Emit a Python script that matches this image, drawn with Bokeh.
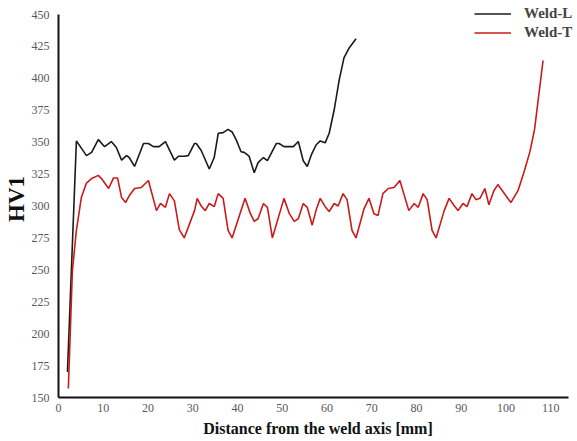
from bokeh.plotting import figure
from bokeh.models import Range1d, FixedTicker, Legend, LegendItem
from bokeh.embed import file_html
from bokeh.resources import INLINE

# Weld-L (black)
weld_l_x = [2.0, 4.0, 6.25, 7.4, 8.9, 10.3, 11.8, 12.9, 14.1, 15.2, 15.8, 17.0, 19.0, 20.1,
            21.2, 22.5, 23.9, 25.9, 26.8, 28.1, 29.0, 30.4, 30.8, 31.9, 33.7, 34.8, 35.7,
            36.8, 37.9, 38.8, 39.7, 40.8, 41.5, 42.6, 43.75, 44.6, 45.8, 46.7, 48.7, 49.3,
            50.4, 52.5, 53.6, 54.7, 55.6, 56.5, 57.6, 58.5, 59.6, 60.5, 61.6, 62.7, 63.8,
            65.0, 66.5]
weld_l_y = [170, 351, 339.5, 342, 352, 346.5, 350.5, 346, 336, 339.5, 338, 331, 349, 349,
            346.5, 346.5, 350.5, 336, 339, 339, 339.5, 349, 349, 343.5, 329, 338, 357,
            357.5, 360, 358, 352, 342.5, 342, 339, 326, 334, 338, 335.5, 349, 349,
            346.5, 346.5, 350.5, 335.5, 331, 340, 348, 351, 349.5, 357, 375, 398, 416,
            424, 431]

# Weld-T (red)
weld_t_x = [2.2, 3.1, 4.0, 5.1, 6.25, 7.4, 8.9, 9.6, 11.2, 12.3, 13.2, 14.1, 15.0, 15.8,
            17.0, 18.5, 20.1, 21.9, 22.8, 23.9, 24.8, 25.9, 27.0, 28.1, 30.4, 31.0, 31.9,
            32.8, 33.7, 34.8, 35.7, 36.8, 37.9, 38.8, 40.8, 41.7, 42.9, 43.75, 44.6, 45.8,
            46.7, 47.8, 50.4, 51.6, 52.7, 53.6, 54.7, 55.6, 56.7, 57.6, 58.5, 59.6, 60.5,
            61.6, 62.5, 63.6, 64.5, 65.6, 66.5, 68.3, 69.4, 70.5, 71.4, 72.5, 73.7, 75.0,
            76.3, 78.3, 79.5, 80.4, 81.5, 82.4, 83.5, 84.4, 86.2, 87.3, 88.4, 89.3, 90.4,
            91.3, 92.4, 93.3, 94.2, 95.3, 96.2, 97.3, 98.2, 101.1, 102.7, 104.0, 105.4,
            106.4, 108.3]
weld_t_y = [157, 249, 281, 306.6, 318, 321.5, 324, 321.5, 313.7, 322, 322, 306.6, 302.7, 308,
            313.7, 314.5, 320, 296.4, 302, 299, 309.7, 304, 281.5, 275, 296.4, 306, 300,
            296.4, 302, 299.5, 309.7, 306, 281, 275, 296.4, 306, 294, 288, 290, 302,
            299, 275, 306, 294, 288, 290, 302, 299, 285, 297, 306, 299.5, 295.7,
            302, 300, 309.7, 305, 281, 275, 298, 306, 294, 292.5, 309.7, 313.7, 314.5,
            320, 296.4, 302, 299, 309.7, 305, 281, 275, 296.4, 306, 300.4, 296.4, 302,
            299.5, 309.7, 305, 306, 313.7, 301, 312, 316.8, 302.7, 312, 326, 343,
            360, 414]

x_ticks = [0, 10, 20, 30, 40, 50, 60, 70, 80, 90, 100, 110]
y_ticks = [150, 175, 200, 225, 250, 275, 300, 325, 350, 375, 400, 425, 450]

FRAME_H = 397
p = figure(width=577, height=441, output_backend="svg", toolbar_location=None,
           x_range=Range1d(0, 116), y_range=Range1d(150, 461),
           min_border_left=57, min_border_right=0, min_border_top=0, min_border_bottom=44)
p.outline_line_color = None
p.grid.visible = False
p.background_fill_color = "white"
p.border_fill_color = "white"

ll = p.line(weld_l_x, weld_l_y, line_color="#1a1a1a", line_width=1.6)
lt = p.line(weld_t_x, weld_t_y, line_color="#cc1a1a", line_width=1.6)

for ax in (p.xaxis[0], p.yaxis[0]):
    ax.axis_line_color = "#111111"
    ax.axis_line_width = 2
    ax.major_tick_line_color = None
    ax.minor_tick_line_color = None
    ax.major_tick_out = 0
    ax.major_tick_in = 0
    ax.minor_tick_out = 0
    ax.minor_tick_in = 0
    ax.major_label_text_font = "Liberation Serif"
    ax.major_label_text_font_size = "12px"
    ax.major_label_text_color = "#595959"
    ax.axis_label_text_font = "Liberation Serif"
    ax.axis_label_text_font_style = "bold"
    ax.axis_label_text_color = "#111111"

p.xaxis.ticker = FixedTicker(ticks=x_ticks)
p.yaxis.ticker = FixedTicker(ticks=y_ticks)
p.yaxis.bounds = (150, 450)
p.xaxis.bounds = (0, 114)
p.xaxis.major_label_standoff = 6
p.yaxis.major_label_standoff = 9
p.xaxis.axis_label = "Distance from the weld axis [mm]"
p.xaxis.axis_label_text_font_size = "16px"
p.xaxis.axis_label_standoff = 5
p.yaxis.axis_label = "HV1"
p.yaxis.axis_label_text_font_size = "23px"
p.yaxis.axis_label_standoff = 0

legend = Legend(items=[LegendItem(label="Weld-L", renderers=[ll]),
                       LegendItem(label="Weld-T", renderers=[lt])],
                location=(416, FRAME_H - 4 - 38), border_line_color=None, background_fill_alpha=0,
                margin=0, padding=0, spacing=0, glyph_width=37, label_standoff=13,
                label_text_font="Liberation Serif", label_text_font_style="bold",
                label_text_font_size="15px", label_height=19, glyph_height=19)
p.add_layout(legend)

open("out.html", "w").write(file_html(p, INLINE))
